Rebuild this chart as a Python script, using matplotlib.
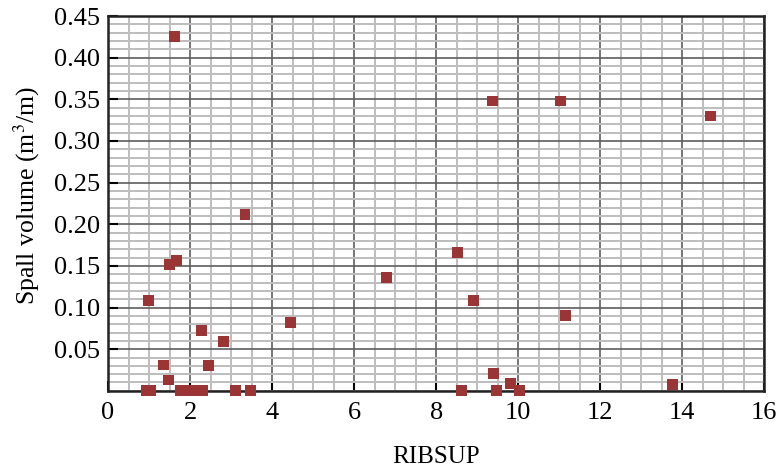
import numpy as np
import matplotlib.pyplot as plt
from matplotlib.ticker import MultipleLocator

plt.rcParams['font.family'] = ['Liberation Serif', 'DejaVu Serif']
plt.rcParams['mathtext.fontset'] = 'stix'

# RIBSUP vs spall volume per metre
ribsup = [1.63, 1.49, 1.68, 0.98, 3.34, 4.46, 2.28, 2.81, 1.36, 2.45, 1.47,
          0.93, 1.04, 1.77, 1.95, 2.12, 2.30, 3.10, 3.47,
          6.80, 8.52, 8.90, 11.15, 9.41, 9.81, 13.76, 8.62, 9.48, 10.04,
          9.37, 11.03, 14.70]
spall = [0.425, 0.152, 0.156, 0.109, 0.212, 0.082, 0.072, 0.059, 0.031, 0.030, 0.013,
         0.0, 0.0, 0.0, 0.0, 0.0, 0.0, 0.0, 0.0,
         0.136, 0.166, 0.109, 0.090, 0.021, 0.009, 0.008, 0.0, 0.0, 0.0,
         0.348, 0.348, 0.330]

xticks = [0, 2, 4, 6, 8, 10, 12, 14, 16]
yticks = [0.05, 0.10, 0.15, 0.20, 0.25, 0.30, 0.35, 0.40, 0.45]

fig = plt.figure(figsize=(7.83, 4.72), dpi=100)
ax = fig.add_axes([0.138, 0.172, 0.838, 0.794])

ax.scatter(ribsup, spall, marker='s', s=62, color='#9b3535', edgecolors='none',
           zorder=3, clip_on=False)

ax.set_xlim(0, 16)
ax.set_ylim(0, 0.45)
ax.set_xticks(xticks)
ax.set_yticks(yticks)
ax.set_xticklabels([str(t) for t in xticks])
ax.set_yticklabels(['%.2f' % t for t in yticks])
ax.xaxis.set_minor_locator(MultipleLocator(0.5))
ax.yaxis.set_minor_locator(MultipleLocator(0.01))

ax.grid(which='minor', color='#bdbdbd', linewidth=1.4, zorder=0)
ax.grid(which='major', color='#5e5e5e', linewidth=1.2, zorder=1)
ax.set_axisbelow(True)

ax.tick_params(which='major', direction='in', length=7, width=1.5,
               labelsize=19, pad=6)
ax.tick_params(axis='x', which='major', pad=8)
ax.tick_params(which='minor', length=0)
for sp in ax.spines.values():
    sp.set_linewidth(1.8)
    sp.set_color('#222222')

ax.set_xlabel('RIBSUP', fontsize=18, labelpad=16)
ax.set_ylabel('Spall volume (m$^3$/m)', fontsize=18.5)
ax.yaxis.set_label_coords(-0.10, 0.52)

fig.savefig('out.png', dpi=100)
